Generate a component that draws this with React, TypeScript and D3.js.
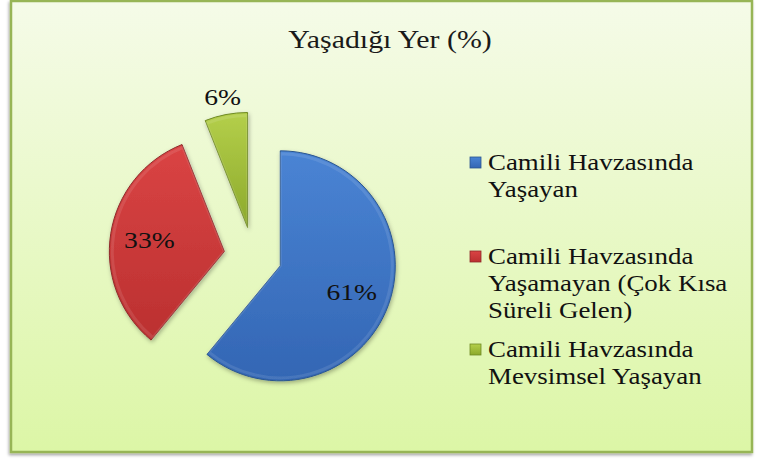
import React from "react";
import * as d3 from "d3";

const categories = [
  "Camili Havzasında Yaşayan",
  "Camili Havzasında Yaşamayan (Çok Kısa Süreli Gelen)",
  "Camili Havzasında Mevsimsel Yaşayan",
];
const values = [61, 33, 6];
const legendLines = [
  ["Camili Havzasında", "Yaşayan"],
  ["Camili Havzasında", "Yaşamayan (Çok Kısa", "Süreli Gelen)"],
  ["Camili Havzasında", "Mevsimsel Yaşayan"],
];
const title = "Yaşadığı Yer (%)";

const W = 761;
const H = 459;
const FONT = "Liberation Serif";
const SX = 1.17;

const colorsTop = ["#4a84d4", "#da4444", "#b4cf4a"];
const colorsBot = ["#3366b4", "#bb3030", "#8ca92c"];
const strokes = ["#2b568f", "#8e2a2a", "#6f8a24"];

export default function App() {
  const cx = 253;
  const cy = 256;
  const r = 115;
  const explode = 29;
  const pie = d3.pie<number>().sort(null).value((d) => d)(values);
  const arc = d3.arc<d3.PieArcDatum<number>>().innerRadius(0).outerRadius(r);
  const inner = d3.arc<d3.PieArcDatum<number>>().innerRadius(0).outerRadius(r - 3);
  const total = d3.sum(values);

  const legendBaselines = [[170, 197], [264, 291, 318], [357, 384]];

  return (
    <svg width={W} height={H} style={{ position: "absolute", left: 0, top: 0 }}>
      <defs>
        <linearGradient id="bg" x1="0" y1="0" x2="0" y2="1">
          <stop offset="0" stopColor="#f5fbe8" />
          <stop offset="1" stopColor="#dcf6a6" />
        </linearGradient>
        {values.map((_, i) => (
          <linearGradient key={i} id={`g${i}`} x1="0" y1="0" x2="0" y2="1">
            <stop offset="0" stopColor={colorsTop[i]} />
            <stop offset="1" stopColor={colorsBot[i]} />
          </linearGradient>
        ))}
        <filter id="sh" x="-20%" y="-20%" width="140%" height="140%">
          <feDropShadow dx="1" dy="2" stdDeviation="2" floodColor="#000" floodOpacity="0.3" />
        </filter>
        <filter id="fsh" x="-5%" y="-5%" width="110%" height="110%">
          <feDropShadow dx="-1" dy="2" stdDeviation="1.5" floodColor="#000" floodOpacity="0.35" />
        </filter>
      </defs>
      <rect x={0} y={0} width={W} height={H} fill="#ffffff" />
      <rect x={11} y={1} width={741} height={451} fill="url(#bg)" stroke="#97b556" strokeWidth={2.5} filter="url(#fsh)" />
      <text
        transform={`translate(390,48) scale(1.15,1)`}
        textAnchor="middle"
        fontFamily={FONT}
        fontSize={26}
        fill="#1a1a1a"
      >
        {title}
      </text>
      {pie.map((p, i) => {
        const mid = (p.startAngle + p.endAngle) / 2;
        const ox = cx + explode * Math.sin(mid);
        const oy = cy - explode * Math.cos(mid);
        const frac = p.value / total;
        const lr = frac < 0.1 ? r * 1.16 : r * 0.66;
        const lx = ox + lr * Math.sin(mid);
        const ly = oy - lr * Math.cos(mid);
        return (
          <g key={i}>
            <path
              d={arc(p) || ""}
              transform={`translate(${ox},${oy})`}
              fill={`url(#g${i})`}
              stroke={strokes[i]}
              strokeWidth={1}
              filter="url(#sh)"
            />
            <path
              d={inner(p) || ""}
              transform={`translate(${ox},${oy})`}
              fill="none"
              stroke="#ffffff"
              strokeOpacity={0.1}
              strokeWidth={3}
            />
            <text
              transform={`translate(${lx},${ly}) scale(1.2,1)`}
              textAnchor="middle"
              dy="0.35em"
              fontFamily={FONT}
              fontSize={23}
              fill="#111"
            >
              {`${values[i]}%`}
            </text>
          </g>
        );
      })}
      {categories.map((c, i) => (
        <g key={c}>
          <rect
            x={470}
            y={legendBaselines[i][0] - 13}
            width={11}
            height={11}
            fill={`url(#g${i})`}
            stroke={strokes[i]}
            strokeWidth={0.8}
          />
          {legendLines[i].map((line, j) => (
            <text
              key={j}
              transform={`translate(488,${legendBaselines[i][j]}) scale(${SX},1)`}
              fontFamily={FONT}
              fontSize={23}
              fill="#111"
            >
              {line}
            </text>
          ))}
        </g>
      ))}
    </svg>
  );
}
